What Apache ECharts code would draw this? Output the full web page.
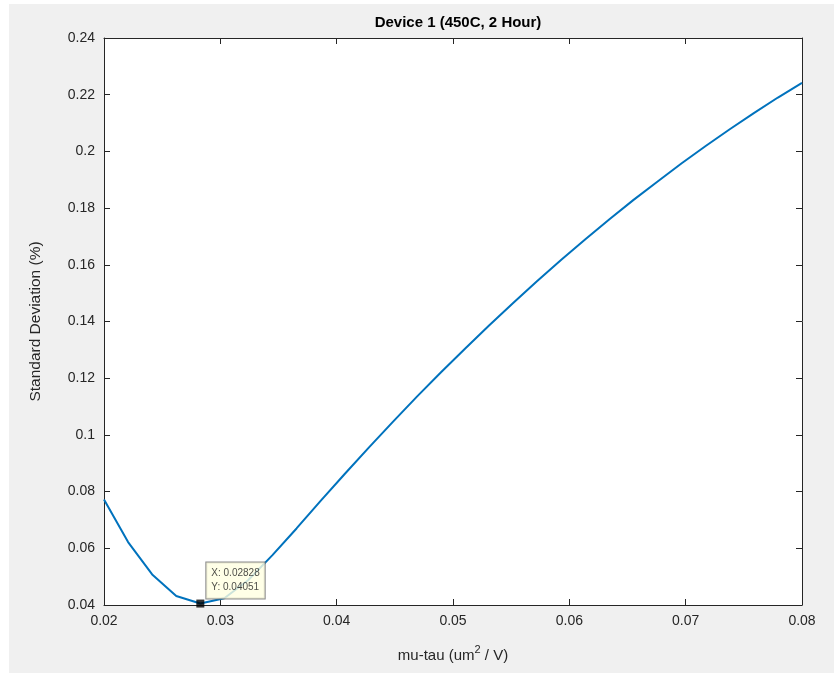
<!DOCTYPE html>
<html>
<head>
<meta charset="utf-8">
<script src="https://cdn.jsdelivr.net/npm/echarts@6/dist/echarts.min.js"></script>
<style>
html,body{margin:0;padding:0;background:#fff;}
#chart{width:834px;height:673px;}
</style>
</head>
<body>
<div id="chart"></div>
<script>
// x sample positions (linspace 0.02..0.08, 30 points)
const xValues = [0.02000,0.02207,0.02414,0.02621,0.02828,0.03034,0.03241,0.03448,0.03655,0.03862,
                 0.04069,0.04276,0.04483,0.04690,0.04897,0.05103,0.05310,0.05517,0.05724,0.05931,
                 0.06138,0.06345,0.06552,0.06759,0.06966,0.07172,0.07379,0.07586,0.07793,0.08000];
const yValues = [0.0772,0.0622,0.0508,0.0432,0.04051,0.0424,0.0488,0.0576,0.0670,0.0767,
                 0.0862,0.0955,0.1046,0.1135,0.1221,0.1304,0.1386,0.1465,0.1543,0.1618,
                 0.1690,0.1761,0.1829,0.1894,0.1958,0.2019,0.2078,0.2135,0.2190,0.2242];
const tipX = [0.02828];
const tipY = [0.04051];
const xTicks = {min:0.02, max:0.08, interval:0.01};
const yTicks = {min:0.04, max:0.24, interval:0.02};

const lineData = xValues.map((x,i)=>[x,yValues[i]]);
const tipData = tipX.map((x,i)=>[x,tipY[i]]);
const fmt = v => parseFloat(v.toFixed(4)).toString();
const FONT = 'Liberation Sans, Helvetica, Arial, sans-serif';
const AX = '#262626';

const chart = echarts.init(document.getElementById('chart'));
const baseAxis = {
  axisLine:{show:true,onZero:false,lineStyle:{color:AX,width:1}},
  axisTick:{show:true,inside:true,length:6,lineStyle:{color:AX,width:1}},
  splitLine:{show:false}
};
chart.setOption({
  backgroundColor:'#f0f0f0',
  animation:false,
  graphic:[
    {type:'rect',shape:{x:0,y:0,width:9,height:673},style:{fill:'#ffffff'},silent:true,z:-1},
    {type:'rect',shape:{x:0,y:0,width:834,height:4},style:{fill:'#ffffff'},silent:true,z:-1}
  ],
  title:{
    text:'Device 1 (450C, 2 Hour)',
    left:453, top:10, textAlign:'center',
    textStyle:{fontFamily:FONT,fontSize:15,fontWeight:'bold',color:'#000'}
  },
  grid:{left:104,right:32,top:38,bottom:68,show:true,backgroundColor:'#ffffff',borderWidth:0},
  xAxis:[
    Object.assign({},baseAxis,{
      type:'value',position:'bottom',min:xTicks.min,max:xTicks.max,interval:xTicks.interval,
      axisLabel:{formatter:fmt,fontFamily:FONT,fontSize:14,color:AX,margin:9},
      name:'{a|mu-tau (um}{s|2}{a| / V)}',nameLocation:'middle',nameGap:39,
      nameTextStyle:{rich:{a:{fontFamily:FONT,fontSize:15,color:AX,verticalAlign:'bottom'},s:{fontFamily:FONT,fontSize:11,color:AX,verticalAlign:'top',padding:[0,0,8,0]}}}
    }),
    Object.assign({},baseAxis,{
      type:'value',position:'top',min:xTicks.min,max:xTicks.max,interval:xTicks.interval,
      axisLabel:{show:false}
    })
  ],
  yAxis:[
    Object.assign({},baseAxis,{
      type:'value',position:'left',min:yTicks.min,max:yTicks.max,interval:yTicks.interval,
      axisLabel:{formatter:fmt,fontFamily:FONT,fontSize:14,color:AX,margin:9},
      name:'Standard Deviation (%)',nameLocation:'middle',nameGap:60,
      nameTextStyle:{fontFamily:FONT,fontSize:15.5,color:AX}
    }),
    Object.assign({},baseAxis,{
      type:'value',position:'right',min:yTicks.min,max:yTicks.max,interval:yTicks.interval,
      axisLabel:{show:false}
    })
  ],
  series:[
    {
      type:'line',data:lineData,showSymbol:false,symbol:'none',
      lineStyle:{color:'#0072BD',width:2},z:2
    },
    {
      type:'scatter',data:tipData,symbol:'rect',symbolSize:8,
      itemStyle:{color:'#000000'},z:5,
      label:{
        show:true,position:[10,-37],
        formatter:p=>'X: '+tipX[p.dataIndex].toFixed(5)+'\nY: '+tipY[p.dataIndex].toFixed(5),
        fontFamily:FONT,fontSize:10,lineHeight:14,color:'#1a1a1a',
        backgroundColor:'#ffffe1',borderColor:'#6e6e6e',borderWidth:1,padding:[4,5,4,5]
      }
    }
  ]
});
</script>
</body>
</html>
